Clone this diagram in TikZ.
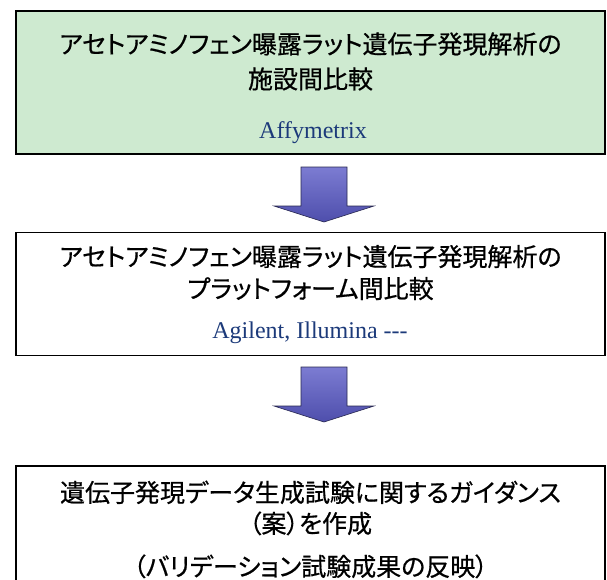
\documentclass[tikz,border=0pt]{standalone}
\usepackage{fontspec}
\setmainfont{Liberation Serif}
\newfontfamily\jpfont[RawFeature=+palt,FakeBold=0.6]{Noto Sans CJK JP}
\usetikzlibrary{positioning}

\definecolor{boxgreen}{RGB}{206,234,208}
\definecolor{vendorblue}{RGB}{28,58,122}
\definecolor{arrowlight}{RGB}{124,124,210}
\definecolor{arrowdark}{RGB}{78,78,172}
\definecolor{arrowedge}{RGB}{40,40,80}

\begin{document}
\begin{tikzpicture}[x=1pt,y=1pt,
    stagebox/.style={draw=black,line width=1.6pt,rectangle,minimum width=589pt,inner sep=0pt},
    jptext/.style={font=\jpfont\fontsize{25}{33}\selectfont,align=center,inner sep=0pt},
    vendor/.style={font=\fontsize{24}{28}\selectfont,text=vendorblue,inner sep=0pt},
    fatarrow/.style={draw=arrowedge,line width=0.6pt,top color=arrowlight,bottom color=arrowdark}]
    \useasboundingbox (0,0) rectangle (607,-579);
    \fill[white] (0,0) rectangle (607,-579);

    % the three stages
    \node[stagebox,fill=boxgreen,minimum height=143pt] (box1) at (310.5,-82.5) {};
    \node[stagebox,fill=white,minimum height=123pt] (box2) [below=77pt of box1] {};
    \node[stagebox,fill=white,minimum height=140pt] (box3) [below=109pt of box2] {};

    % texts
    \node[jptext,anchor=north] (title1) at ([yshift=-22pt]box1.north)
        {アセトアミノフェン曝露ラット遺伝子発現解析の\\[2pt]施設間比較};
    \node[vendor,anchor=base] (vendor1) at (313,-138) {Affymetrix};
    \node[jptext,anchor=north] (title2) at ([yshift=-13pt]box2.north)
        {アセトアミノフェン曝露ラット遺伝子発現解析の\\[-1pt]プラットフォーム間比較};
    \node[vendor,anchor=base] (vendor2) at (310,-338) {Agilent, Illumina -{}-{}-};
    \node[jptext,anchor=north] (title3) at ([yshift=-15pt]box3.north)
        {遺伝子発現データ生成試験に関するガイダンス\\[-2pt]（案）を作成\\[10pt]（バリデーション試験成果の反映）};

    % arrows between the stages
    \coordinate (arr1) at (324,-167);
    \coordinate (arr2) at (324,-367);
    \foreach \a in {arr1,arr2}
        \shadedraw[fatarrow] (\a) ++(-23,0) -- ++(46,0) -- ++(0,-39) -- ++(27,0)
            -- ++(-50,-16) -- ++(-50,16) -- ++(27,0) -- cycle;
\end{tikzpicture}
\end{document}
